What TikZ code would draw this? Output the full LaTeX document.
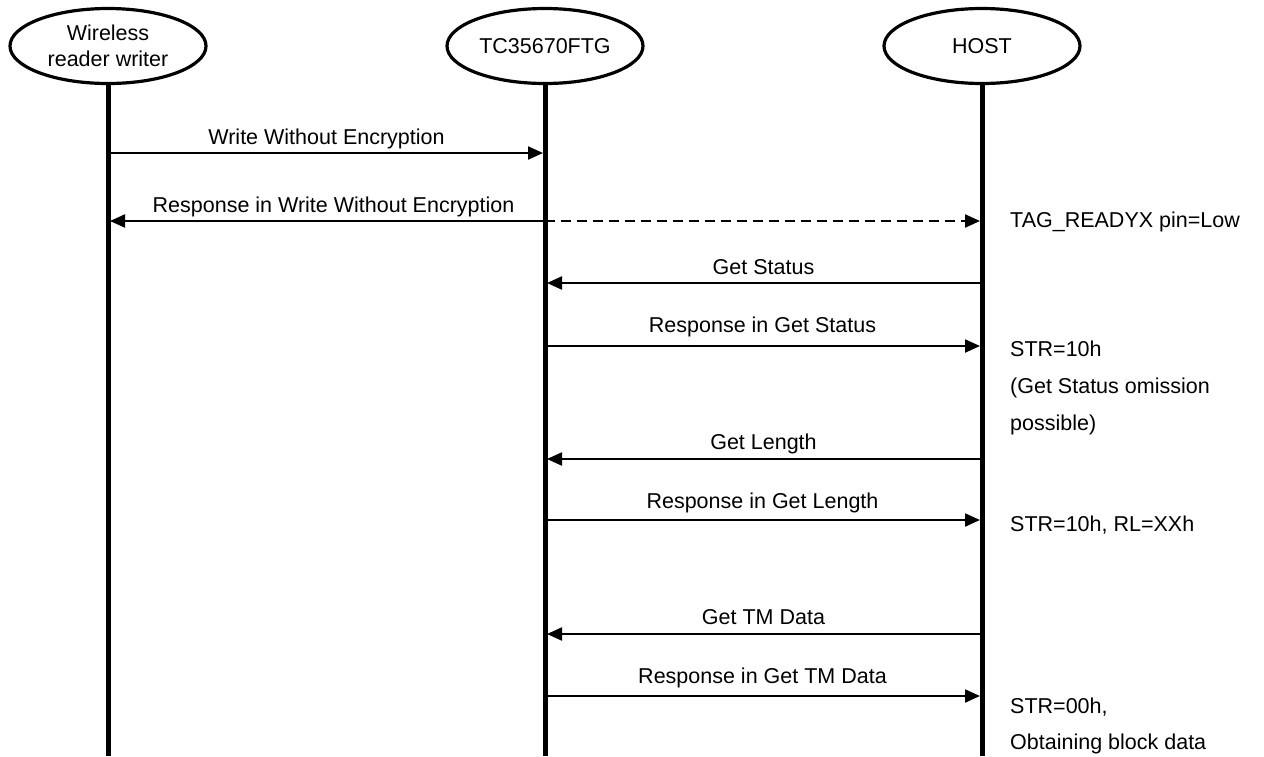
\documentclass[tikz,border=0pt]{standalone}
\usepackage{fontspec}
\setmainfont{Liberation Sans}
\usetikzlibrary{arrows.meta,shapes.geometric}
\begin{document}
\begin{tikzpicture}[x=1pt,y=-1pt,
  actor/.style={ellipse, draw, line width=3.2pt, minimum width=196pt, minimum height=75pt, inner sep=0pt, align=center, font=\fontsize{21.5}{26}\selectfont},
  lifeline/.style={line width=5pt},
  msg/.style={line width=2.2pt, -{Triangle[length=15pt,width=13pt]}},
  dmsg/.style={msg, dash pattern=on 10pt off 6pt},
  lbl/.style={font=\fontsize{21.5}{26}\selectfont, anchor=base, inner sep=0pt},
  note/.style={font=\fontsize{21.5}{26}\selectfont, anchor=base west, inner sep=0pt}]
\useasboundingbox (0,0) rectangle (1264,756);
% actors
\node[actor] (W) at (108,46) {Wireless\\reader writer};
\node[actor] (T) at (545,46) {TC35670FTG};
\node[actor] (H) at (982,46) {HOST};
\coordinate (Wb) at (108,756);
\coordinate (Tb) at (545,756);
\coordinate (Hb) at (982,756);
\draw[lifeline] (W.south) -- (Wb);
\draw[lifeline] (T.south) -- (Tb);
\draw[lifeline] (H.south) -- (Hb);
% message anchor points
\coordinate (W1) at (110,153); \coordinate (T1) at (543,153);
\coordinate (W2) at (110,221); \coordinate (T2) at (545,221); \coordinate (H2) at (980,221);
\coordinate (T3) at (547,283); \coordinate (H3) at (980,283);
\coordinate (T4) at (545,346); \coordinate (H4) at (980,346);
\coordinate (T5) at (547,459); \coordinate (H5) at (980,459);
\coordinate (T6) at (545,520); \coordinate (H6) at (980,520);
\coordinate (T7) at (547,634); \coordinate (H7) at (980,634);
\coordinate (T8) at (545,696); \coordinate (H8) at (980,696);
% messages
\draw[msg] (W1) -- (T1) node[lbl, midway, yshift=9pt] (l1) {Write Without Encryption};
\draw[msg] (T2) -- (W2) node[lbl, midway, xshift=6pt, yshift=9pt] (l2) {Response in Write Without Encryption};
\draw[dmsg] (T2) -- (H2);
\draw[msg] (H3) -- (T3) node[lbl, midway, yshift=9pt] (l3) {Get Status};
\draw[msg] (T4) -- (H4) node[lbl, midway, yshift=14pt] (l4) {Response in Get Status};
\draw[msg] (H5) -- (T5) node[lbl, midway, yshift=10pt] (l5) {Get Length};
\draw[msg] (T6) -- (H6) node[lbl, midway, yshift=12pt] (l6) {Response in Get Length};
\draw[msg] (H7) -- (T7) node[lbl, midway, yshift=10pt] (l7) {Get TM Data};
\draw[msg] (T8) -- (H8) node[lbl, midway, yshift=13pt] (l8) {Response in Get TM Data};
% notes
\node[note] (n1) at (1010,227) {TAG\_READYX pin=Low};
\node[note] (n2) at (1010,356) {STR=10h};
\node[note] (n3) at (1010,393) {(Get Status omission};
\node[note] (n4) at (1010,430) {possible)};
\node[note] (n5) at (1010,531) {STR=10h, RL=XXh};
\node[note] (n6) at (1010,713) {STR=00h,};
\node[note] (n7) at (1010,749) {Obtaining block data};
\end{tikzpicture}
\end{document}
